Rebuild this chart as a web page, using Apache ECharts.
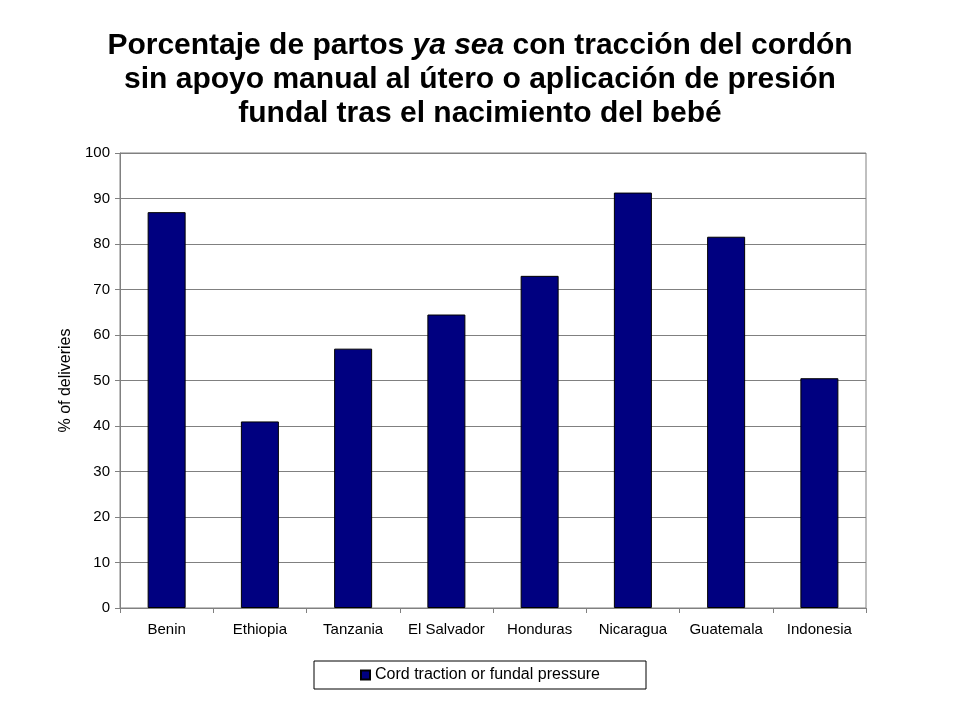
<!DOCTYPE html>
<html><head><meta charset="utf-8">
<script src="https://cdn.jsdelivr.net/npm/echarts@6/dist/echarts.min.js"></script>
<style>html,body{margin:0;padding:0;background:#fff}#c{width:960px;height:720px}</style>
</head><body><div id="c"></div>
<script>
const categories = ["Benin","Ethiopia","Tanzania","El Salvador","Honduras","Nicaragua","Guatemala","Indonesia"];
const values = [87, 41, 57, 64.5, 73, 91.3, 81.6, 50.5];
const seriesName = "Cord traction or fundal pressure";
const chart = echarts.init(document.getElementById('c'));
const F = "'Liberation Sans', Arial, sans-serif";
chart.setOption({
  animation:false,
  title:{
    left:'center', top:24,
    text:"Porcentaje de partos {i|ya sea} con tracción del cordón\nsin apoyo manual al útero o aplicación de presión\nfundal tras el nacimiento del bebé",
    textStyle:{fontFamily:F,fontSize:30,fontWeight:'bold',color:'#000',lineHeight:34,
      rich:{i:{fontFamily:F,fontSize:30,fontWeight:'bold',fontStyle:'italic',color:'#000',lineHeight:34}}}
  },
  grid:{left:120,right:94,top:153,bottom:112},
  legend:{bottom:31,left:'center',data:[seriesName],itemWidth:9,itemHeight:9,icon:'rect',
    borderColor:'#000',borderWidth:1,padding:[6,46,6,46],
    textStyle:{fontFamily:F,fontSize:16,color:'#000'}},
  xAxis:{type:'category',data:categories,
    axisLine:{lineStyle:{color:'#808080'}},axisTick:{show:true,interval:0,lineStyle:{color:'#808080'}},
    axisLabel:{interval:0,fontFamily:F,fontSize:15,color:'#000',margin:14}},
  yAxis:{type:'value',min:0,max:100,interval:10,
    name:'% of deliveries',nameLocation:'middle',nameGap:28,nameRotate:90,
    nameTextStyle:{fontFamily:F,fontSize:16,color:'#000'},
    axisLine:{show:true,lineStyle:{color:'#808080'}},axisTick:{show:true,lineStyle:{color:'#808080'}},
    splitLine:{lineStyle:{color:'#808080'}},
    axisLabel:{fontFamily:F,fontSize:15,color:'#000',margin:10}},
  series:[{name:seriesName,type:'bar',data:values,barWidth:38,
    itemStyle:{color:'#000080',borderColor:'#000',borderWidth:1}}],
  graphic:[{type:'rect',shape:{x:120,y:153,width:746,height:455},style:{fill:'none',stroke:'#808080',lineWidth:1},silent:true}]
});
</script></body></html>
